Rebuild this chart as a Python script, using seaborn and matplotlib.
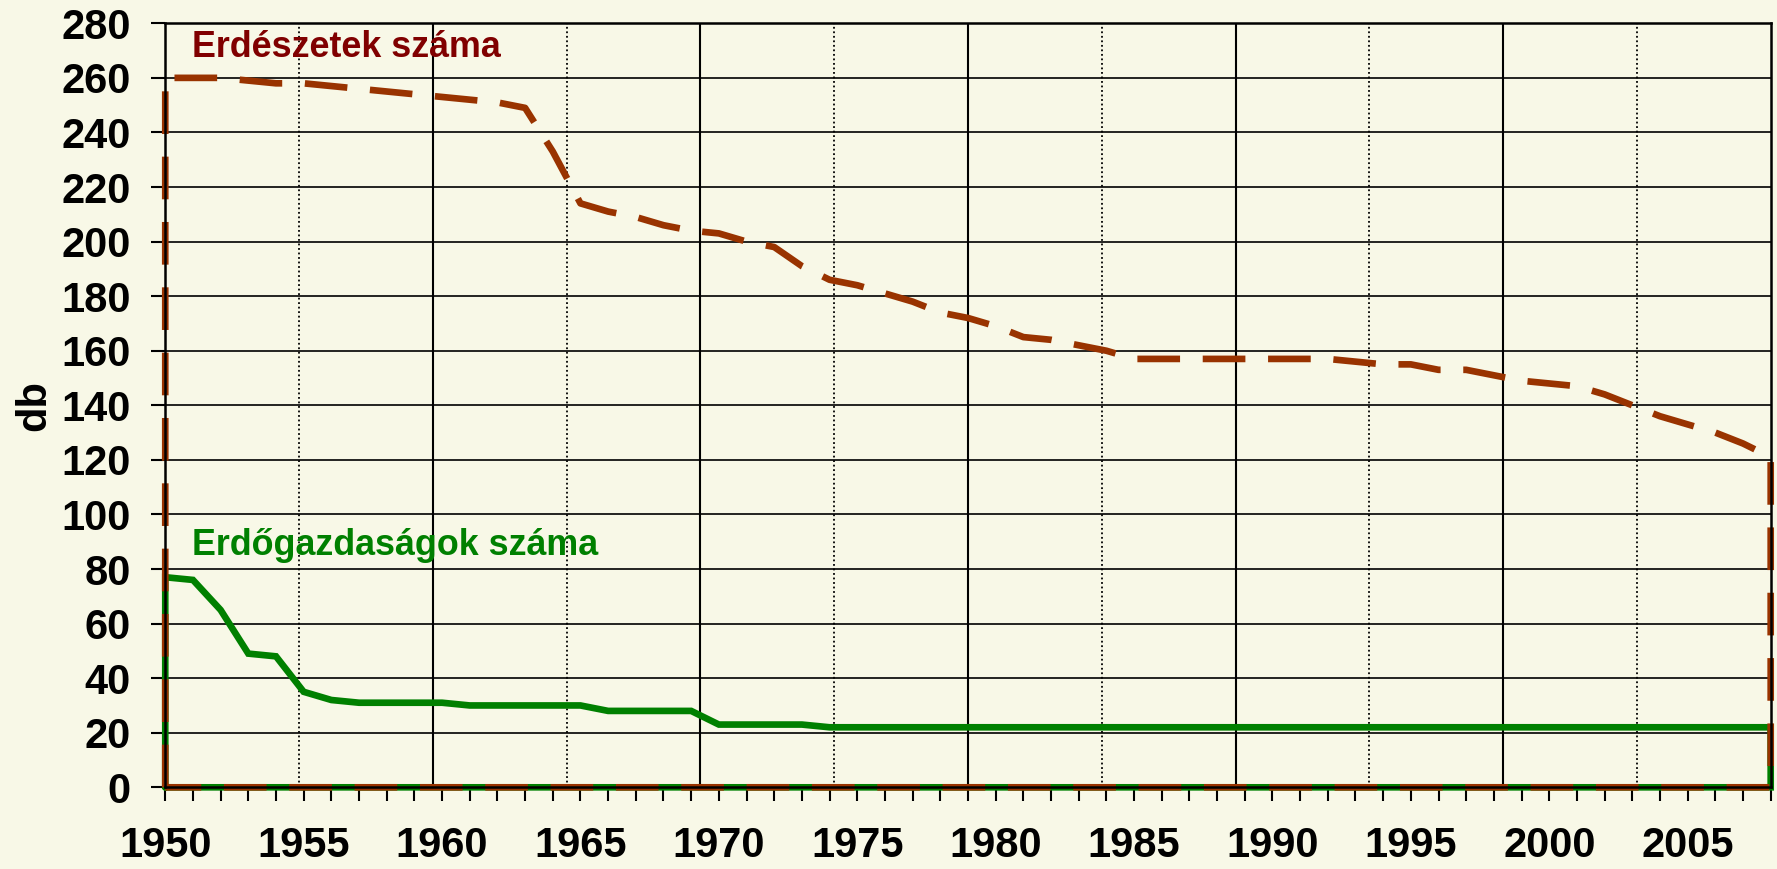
import numpy as np
import seaborn as sns
import matplotlib.pyplot as plt
from matplotlib.ticker import MultipleLocator

# --- adatok ---
years = list(range(1950, 2009))
erdeszetek = [260, 260, 260, 259, 258, 258, 257, 256, 255, 254,
              253, 252, 251, 249, 233, 214, 211, 209, 206, 204,
              203, 200, 198, 191, 186, 184, 181, 178, 174, 172,
              169, 165, 164, 162, 160, 157, 157, 157, 157, 157,
              157, 157, 157, 156, 155, 155, 153, 153, 151, 149,
              148, 147, 144, 140, 136, 133, 130, 126, 121]
erdogazdasagok = [77, 76, 65, 49, 48, 35, 32, 31, 31, 31,
                  31, 30, 30, 30, 30, 30, 28, 28, 28, 28,
                  23, 23, 23, 23, 22, 22, 22, 22, 22, 22,
                  22, 22, 22, 22, 22, 22, 22, 22, 22, 22,
                  22, 22, 22, 22, 22, 22, 22, 22, 22, 22,
                  22, 22, 22, 22, 22, 22, 22, 22, 22]
label_years = list(range(1950, 2010, 5))
y_ticks = list(range(0, 281, 20))

BG = '#F8F8E7'
BROWN = '#993300'
GREEN = '#008000'

sns.set_theme(style='white', rc={'figure.facecolor': BG, 'axes.facecolor': BG})
plt.rcParams['font.family'] = ['Liberation Sans', 'DejaVu Sans']


def outline(vals):
    # az Excel-féle területdiagram körvonala: 0-ról fel, végig az adatokon, le és vissza az alapvonalon
    x = np.concatenate([[years[0]], years, [years[-1], years[0]]])
    y = np.concatenate([[0], vals, [0, 0]])
    return x, y


fig = plt.figure(figsize=(17.77, 8.69), dpi=100)
ax = fig.add_axes([0.0930, 0.0940, 0.99645 - 0.0930, 0.9732 - 0.0940])

ax.set_xlim(years[0], years[-1])
ax.set_ylim(0, 280)

# rácsvonalak (függőlegesek egyenletesen osztva, mint az eredetin)
grid_pos = np.linspace(years[0], years[-1], 13)[1:-1]
for k, gx in enumerate(grid_pos, start=1):
    if k % 2 == 0:
        ax.axvline(gx, color='black', lw=1.5, zorder=0.5)
    else:
        ax.axvline(gx, color='black', lw=1.3, ls=(0, (1, 1.5)), zorder=0.5)
for gy in y_ticks[1:]:
    ax.axhline(gy, color='black', lw=1.2, zorder=0.5)

gx_, gy_ = outline(erdogazdasagok)
sns.lineplot(x=gx_, y=gy_, sort=False, estimator=None, color=GREEN, lw=4.8,
             clip_on=False, solid_joinstyle='miter', zorder=3, ax=ax)
bx_, by_ = outline(erdeszetek)
sns.lineplot(x=bx_, y=by_, sort=False, estimator=None, color=BROWN, lw=4.8,
             linestyle=(0, (6.4, 3.4)), dash_capstyle='butt', clip_on=False,
             zorder=4, ax=ax)

ax.set_xticks(label_years)
ax.set_xticklabels([str(y) for y in label_years])
ax.xaxis.set_minor_locator(MultipleLocator(1))
ax.set_yticks(y_ticks)
ax.set_yticklabels([str(v) for v in y_ticks])

ax.tick_params(axis='both', which='both', direction='out', length=10, width=1.5,
               color='black', labelsize=30, labelcolor='black')
ax.tick_params(axis='x', which='both', bottom=True, pad=18)
ax.tick_params(axis='y', which='major', left=True, pad=15)
for lab in ax.get_xticklabels() + ax.get_yticklabels():
    lab.set_fontweight('bold')

for sp in ax.spines.values():
    sp.set_color('black')
    sp.set_linewidth(1.8)
    sp.set_zorder(5)

ax.set_xlabel('')
ax.set_ylabel('db', fontsize=30, fontweight='bold', color='black')
ax.yaxis.set_label_coords(-0.069, 0.5)

ax.text(1950.95, 267.7, 'Erdészetek száma', color='#800000', fontsize=25.8,
        fontweight='bold', va='baseline', ha='left')
ax.text(1950.95, 85.1, 'Erdőgazdaságok száma', color=GREEN, fontsize=25.8,
        fontweight='bold', va='baseline', ha='left')

plt.savefig('out.png', dpi=100, facecolor=BG)
